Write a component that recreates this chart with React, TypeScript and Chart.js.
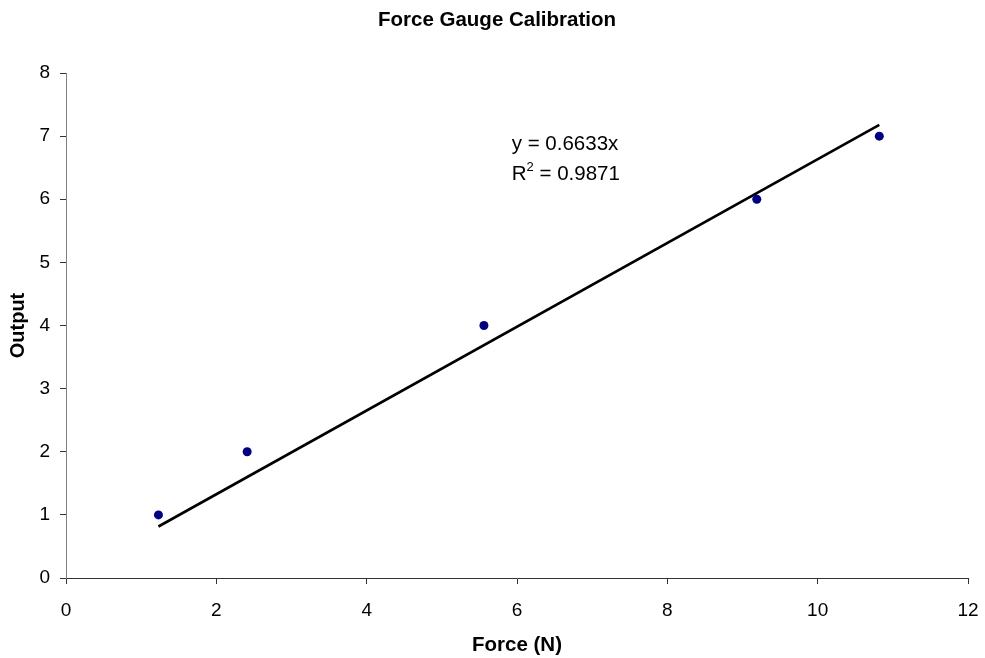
import React, { useEffect, useRef } from "react";
import { Chart, registerables } from "chart.js";

Chart.register(...registerables);

const chartTitle = "Force Gauge Calibration";
const xAxisTitle = "Force (N)";
const yAxisTitle = "Output";
const forceN = [1.23, 2.41, 5.56, 9.19, 10.82];
const output = [1, 2, 4, 6, 7];
const trendSlope = 0.6633;
const trendR2 = 0.9871;
const xRange = [0, 12];
const yRange = [0, 8];
const xStep = 2;
const yStep = 1;
const trendLabelAnchor = { x: 5.93, y: 6.78 };

const FONT = "'Liberation Sans', Arial, sans-serif";

const trendLabelPlugin = {
  id: "trendLabel",
  afterDatasetsDraw(chart: any) {
    const { ctx, scales } = chart;
    const px = scales.x.getPixelForValue(trendLabelAnchor.x);
    const py = scales.y.getPixelForValue(trendLabelAnchor.y);
    ctx.save();
    ctx.fillStyle = "#000";
    ctx.textAlign = "left";
    ctx.textBaseline = "alphabetic";
    ctx.font = `20.5px ${FONT}`;
    ctx.fillText(`y = ${trendSlope.toFixed(4)}x`, px, py);
    const y2 = py + 30;
    ctx.fillText("R", px, y2);
    const rw = ctx.measureText("R").width;
    ctx.font = `13px ${FONT}`;
    ctx.fillText("2", px + rw, y2 - 9);
    const sw = ctx.measureText("2").width;
    ctx.font = `20.5px ${FONT}`;
    ctx.fillText(` = ${trendR2.toFixed(4)}`, px + rw + sw, y2);
    ctx.restore();
  },
};

export default function App() {
  const ref = useRef<HTMLCanvasElement | null>(null);

  useEffect(() => {
    if (!ref.current) return;
    const points = forceN.map((x, i) => ({ x, y: output[i] }));
    const xMin = Math.min(...forceN);
    const xMax = Math.max(...forceN);
    const trend = [
      { x: xMin, y: trendSlope * xMin },
      { x: xMax, y: trendSlope * xMax },
    ];
    const chart = new Chart(ref.current, {
      type: "scatter",
      data: {
        datasets: [
          {
            label: "Output",
            data: points,
            pointRadius: 4.5,
            pointBackgroundColor: "#000080",
            pointBorderColor: "#000080",
            pointBorderWidth: 0,
            showLine: false,
          },
          {
            label: "Trend",
            data: trend,
            showLine: true,
            pointRadius: 0,
            borderColor: "#000",
            borderWidth: 2.6,
            fill: false,
          } as any,
        ],
      },
      options: {
        responsive: false,
        animation: false,
        layout: { padding: { left: 26, right: 17, top: 0, bottom: 0 } },
        plugins: {
          legend: { display: false },
          tooltip: { enabled: false },
          title: {
            display: true,
            text: chartTitle,
            color: "#000",
            font: { family: FONT, size: 20.5, weight: "bold", lineHeight: 1.2 },
            padding: { top: 8, bottom: 40.4 },
          },
        },
        scales: {
          x: {
            type: "linear",
            min: xRange[0],
            max: xRange[1],
            ticks: {
              stepSize: xStep,
              color: "#000",
              font: { family: FONT, size: 19, lineHeight: 1.2 },
              padding: 15,
              maxRotation: 0,
            },
            grid: {
              display: true,
              drawOnChartArea: false,
              drawTicks: true,
              tickLength: 6,
              color: "#333",
            },
            border: { display: true, color: "#333", width: 1 },
            title: {
              display: true,
              text: xAxisTitle,
              color: "#000",
              font: { family: FONT, size: 20.5, weight: "bold", lineHeight: 1.2 },
              padding: { top: 0, bottom: 0 },
            },
            afterFit: (s: any) => {
              s.height = 80;
              s.paddingLeft = 0;
              s.paddingRight = 0;
            },
          },
          y: {
            type: "linear",
            min: yRange[0],
            max: yRange[1],
            ticks: {
              stepSize: yStep,
              color: "#000",
              font: { family: FONT, size: 19, lineHeight: 1.2 },
              padding: 10,
            },
            grid: {
              display: true,
              drawOnChartArea: false,
              drawTicks: true,
              tickLength: 6,
              color: "#333",
            },
            border: { display: true, color: "#808080", width: 1 },
            title: {
              display: true,
              text: yAxisTitle,
              color: "#000",
              font: { family: FONT, size: 20, weight: "bold", lineHeight: 1.2 },
              padding: { top: -20, bottom: 0 },
            },
            afterFit: (s: any) => {
              s.width = 40;
              s.paddingTop = 0;
              s.paddingBottom = 0;
            },
          },
        },
      },
      plugins: [trendLabelPlugin],
    });
    return () => chart.destroy();
  }, []);

  return (
    <div style={{ position: "absolute", left: 0, top: 0, width: 985, height: 658, background: "#fff" }}>
      <canvas ref={ref} width={985} height={658} />
    </div>
  );
}
